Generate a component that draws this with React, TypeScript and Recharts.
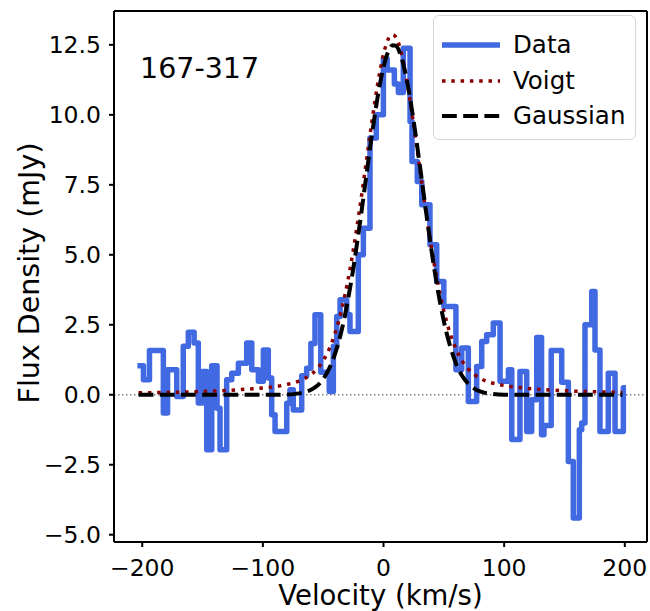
import React from "react";
import { LineChart, Line, XAxis, YAxis, ReferenceLine } from "recharts";

const FONT = "'DejaVu Sans', Verdana, sans-serif";

// observed spectrum: velocity where each channel step starts (km/s) and its flux (mJy)
const dataVel = [
  -204, -199, -194, -182.5, -179, -171.4, -166, -161.8, -157, -153.5, -150, -146.5,
  -142.4, -138, -135.5, -130, -125.8, -120.3, -113.4, -109.2, -103.7, -99.6, -95.5,
  -92.7, -89.9, -80.2, -77.5, -74.8, -67.8, -63.7, -60.2, -56.8, -52, -45, -41.6,
  -38.8, -36, -30.5, -27.8, -20.9, -16.7, -11.2, -6, -0.1, 3, 9, 12.3, 16.4, 22,
  23.6, 28, 31.7, 38.5, 44.1, 50, 60, 64.8, 70.3, 77.2, 81.4, 85.5, 91, 96.6, 103.5,
  106.3, 113.1, 118.7, 122.8, 127, 131, 133, 139, 147.7, 153.2, 157.3, 162.3, 164.3,
  167, 172.6, 175.3, 179.4, 186.3, 191.9, 198.8, 201,
];
const dataFlux = [
  1.04, 0.54, 1.58, -0.65, 0.89, -0.06, 1.73, 2.23, 1.85, -0.29, 0.83, -1.96,
  1.04, -0.48, -1.96, 0.54, 0.77, 1.13, 1.85, 0.89, 0.48, 1.6, 0.6,
  -0.71, -1.31, -0.3, 0.18, -0.54, 0.68, 0.95, 1.83, 2.86, 0.8, 0.12, 1.73,
  2.8, 3.39, 2.86, 2.26, 5.0, 5.95, 9.17, 10.0, 12.0, 11.6, 11.1, 10.8, 12.38, 9.76,
  8.33, 7.62, 6.79, 5.36, 4.05, 3.15, 0.89, 1.67, -0.24, 1.01, 1.9, 2.14, 2.56, 0.48, 0.89,
  -1.6, 0.83, -1.31, -0.18, 2.05, -1.43, -1.1, 1.58, 0.45, -2.38, -4.4, -1.25, -1.01,
  2.5, 3.69, 1.6, -1.31, 0.77, -1.31, 0.25, 0.25,
];

// fitted profiles
const modelVel = [
  -203, -180, -160, -140, -120, -100, -90, -80, -70, -60, -55, -50, -45, -40, -35, -30,
  -25, -20, -15, -10, -5, 0, 5, 7.5, 10, 15, 20, 25, 30, 35, 40, 45, 50, 55, 60, 65, 70,
  75, 80, 90, 100, 120, 140, 160, 180, 198,
];
const voigtFlux = [
  0.07, 0.084, 0.105, 0.134, 0.18, 0.245, 0.29, 0.37, 0.49, 0.73, 0.93, 1.22, 1.64, 2.22, 2.99, 3.98,
  5.18, 6.58, 8.1, 9.64, 11.06, 12.17, 12.79, 12.86, 12.79, 12.17, 11.06, 9.64, 8.1, 6.58, 5.18, 3.98, 2.99, 2.22, 1.64, 1.22, 0.93,
  0.73, 0.59, 0.42, 0.33, 0.225, 0.165, 0.126, 0.099, 0.082,
];
const gaussFlux = [
  0, 0, 0, 0, 0, 0, 0, 0.01, 0.05, 0.18, 0.32, 0.56, 0.94, 1.49, 2.25, 3.27,
  4.53, 5.99, 7.58, 9.17, 10.6, 11.71, 12.36, 12.49, 12.47, 12.03, 11.09, 9.77, 8.23, 6.62, 5.09, 3.74, 2.63, 1.77, 1.13, 0.69, 0.41,
  0.23, 0.12, 0.03, 0, 0, 0, 0, 0, 0,
];

const xTicks = [-200, -100, 0, 100, 200];
const yTicks = [-5, -2.5, 0, 2.5, 5, 7.5, 10, 12.5];
const xDomain = [-223.4, 218.4];
const yDomain = [-5.26, 13.71];

const spectrum = dataVel.map((v, i) => ({ v, flux: dataFlux[i] }));
const voigt = modelVel.map((v, i) => ({ v, flux: voigtFlux[i] }));
const gauss = modelVel.map((v, i) => ({ v, flux: gaussFlux[i] }));

const legendItems = [
  { label: "Data", color: "#4169e1", width: 5.5, dash: undefined },
  { label: "Voigt", color: "#8b0000", width: 3.5, dash: "3.5 5.8" },
  { label: "Gaussian", color: "#000000", width: 4, dash: "14.8 6.4" },
];

const minus = (s: string) => s.replace("-", "\u2212");

const LegendBox = () => (
  <div
    style={{
      position: "absolute",
      left: 433,
      top: 15,
      width: 203,
      height: 125,
      boxSizing: "border-box",
      border: "1.5px solid #d6d6d6",
      borderRadius: 6,
      background: "rgba(255,255,255,0.8)",
      fontFamily: FONT,
      fontSize: 24.5,
      color: "#000",
    }}
  >
    {legendItems.map((it, i) => (
      <div
        key={it.label}
        style={{ position: "absolute", left: 8, top: 15 + i * 35.5, height: 28, display: "flex", alignItems: "center" }}
      >
        <svg width={58} height={10} style={{ display: "block" }}>
          <line x1={0} y1={5} x2={58} y2={5} stroke={it.color} strokeWidth={it.width} strokeDasharray={it.dash} />
        </svg>
        <span style={{ marginLeft: 13, lineHeight: "28px" }}>{it.label}</span>
      </div>
    ))}
  </div>
);

const tickStyle = { fill: "#000", fontSize: 23.5, fontFamily: FONT };

export default function App() {
  return (
    <div style={{ position: "absolute", left: 0, top: 0, width: 650, height: 611, background: "#fff" }}>
      <LineChart width={650} height={611} margin={{ top: 11, right: 3, bottom: 0, left: 0 }}>
        <XAxis
          type="number"
          dataKey="v"
          domain={xDomain}
          ticks={xTicks}
          allowDataOverflow
          height={69}
          tickSize={5}
          tickMargin={12}
          tick={tickStyle}
          tickFormatter={(v: number) => minus(String(v))}
          axisLine={{ stroke: "#000", strokeWidth: 2 }}
          tickLine={{ stroke: "#000", strokeWidth: 2 }}
        />
        <YAxis
          type="number"
          domain={yDomain}
          ticks={yTicks}
          allowDataOverflow
          width={114}
          tickSize={5}
          tickMargin={8}
          tick={tickStyle}
          tickFormatter={(v: number) => minus(v.toFixed(1))}
          axisLine={{ stroke: "#000", strokeWidth: 2 }}
          tickLine={{ stroke: "#000", strokeWidth: 2 }}
        />
        <ReferenceLine y={0} stroke="#808080" strokeWidth={1.5} strokeDasharray="1.5 2.5" />
        <ReferenceLine y={yDomain[1]} stroke="#000" strokeWidth={2} />
        <ReferenceLine x={xDomain[1]} stroke="#000" strokeWidth={2} />
        <Line
          data={spectrum}
          dataKey="flux"
          type="stepAfter"
          stroke="#4169e1"
          strokeWidth={5.5}
          strokeLinejoin="round"
          dot={false}
          isAnimationActive={false}
        />
        <Line
          data={voigt}
          dataKey="flux"
          type="monotone"
          stroke="#8b0000"
          strokeWidth={3.5}
          strokeDasharray="3.5 5.8"
          dot={false}
          isAnimationActive={false}
        />
        <Line
          data={gauss}
          dataKey="flux"
          type="monotone"
          stroke="#000000"
          strokeWidth={4}
          strokeDasharray="14.8 6.4"
          dot={false}
          isAnimationActive={false}
        />
        <text x={140} y={78} fontSize={28.5} fontFamily={FONT} fill="#000">
          167-317
        </text>
        <text x={380.5} y={604.5} fontSize={27.5} fontFamily={FONT} fill="#000" textAnchor="middle">
          Velocity (km/s)
        </text>
        <text
          x={39}
          y={273}
          fontSize={28.5}
          fontFamily={FONT}
          fill="#000"
          textAnchor="middle"
          transform="rotate(-90 39 273)"
        >
          Flux Density (mJy)
        </text>
      </LineChart>
      <LegendBox />
    </div>
  );
}
